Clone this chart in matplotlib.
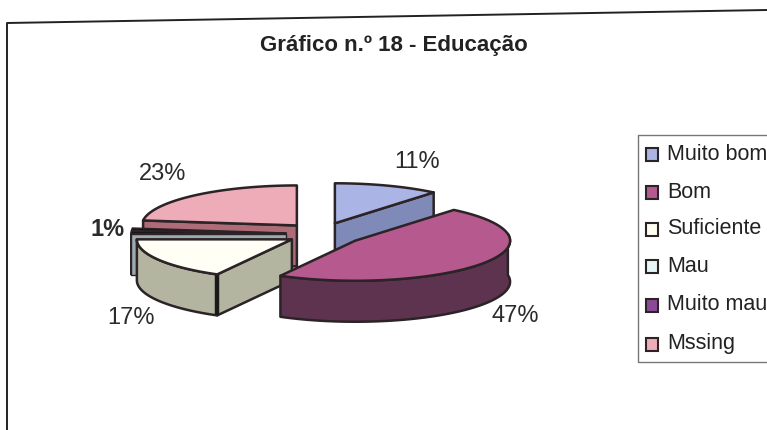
import numpy as np
import matplotlib
matplotlib.use('Agg')
import matplotlib.pyplot as plt
from matplotlib.patches import Rectangle

plt.rcParams['font.family'] = ['Liberation Sans', 'DejaVu Sans']

categories = ['Muito bom', 'Bom', 'Suficiente', 'Mau', 'Muito mau', 'Mssing']
values = [11, 47, 17, 1, 1, 23]
value_labels = ['11%', '47%', '17%', None, '1%', '23%']

top_colors = ['#aab5e6', '#b5598f', '#fffff6', '#1c1418', '#1c1418', '#eeabb8']
side_colors = ['#7f8ab8', '#5e3350', '#b4b5a0', '#9dabb0', '#8d9a9e', '#ae6b78']
legend_colors = ['#aab5e6', '#b5598f', '#fffff0', '#e4f6f6', '#8a4a96', '#eeabb8']
explode = [38, 40, 35, 36, 36, 38]
draw_order = [0, 5, 4, 3, 2, 1]

# pie geometry in pixels
cx, cy = 322, 234
rx, ry = 155, 40
depth = 41
lift = 0.30


def rim(start, end, x0, y0):
    t = np.radians(np.linspace(start, end, 80))
    return x0 + rx * np.sin(t), y0 - ry * np.cos(t), t


fig = plt.figure(figsize=(7.67, 4.3), dpi=100)
ax = fig.add_axes([0, 0, 1, 1])
ax.set_xlim(0, 767)
ax.set_ylim(430, 0)
ax.axis('off')

# page frame, slightly skewed
ax.plot([7, 7, 767], [430, 23, 10], color='#222222', lw=1.4)

angles = np.cumsum([0] + values) * 3.6
for i in draw_order:
    start, end = angles[i], angles[i + 1]
    mid = np.radians((start + end) / 2)
    x0 = cx + explode[i] * np.sin(mid)
    y0 = cy - explode[i] * np.cos(mid) * lift
    xs, ys, t = rim(start, end, x0, y0)
    lw = 1.0 if values[i] == 1 else 1.8
    style = dict(edgecolor='#2b2326', lw=lw, joinstyle='round', zorder=2 + draw_order.index(i))

    # only the cut faces turned towards the viewer get drawn
    if np.sin(np.radians(start)) < -0.01:
        ax.fill([x0, xs[0], xs[0], x0], [y0, ys[0], ys[0] + depth, y0 + depth],
                facecolor=side_colors[i], **style)
    if np.sin(np.radians(end)) > 0.01:
        ax.fill([x0, xs[-1], xs[-1], x0], [y0, ys[-1], ys[-1] + depth, y0 + depth],
                facecolor=side_colors[i], **style)

    # outer wall along the near half of the rim
    front = (np.cos(t) < 0.02) | (np.sin(t) > 0.98)
    if front.any():
        wx, wy = xs[front], ys[front]
        ax.fill(np.r_[wx, wx[::-1]], np.r_[wy, wy[::-1] + depth], facecolor=side_colors[i], **style)

    # heavier corner where the Suficiente wall meets its cut face
    if i == 2:
        ax.plot([xs[0], xs[0]], [ys[0], ys[0] + depth], color='#1a1a1a', lw=3.2,
                solid_capstyle='butt', zorder=style['zorder'])
    ax.fill(np.r_[x0, xs], np.r_[y0, ys], facecolor=top_colors[i], **style)

# value labels
label_pos = [(417, 162), (515, 316), (131, 318), None, (108, 230), (163, 174)]
for i, lab in enumerate(value_labels):
    if lab is None:
        continue
    ax.text(*label_pos[i], lab, fontsize=17, color='#2b2b2b', ha='center', va='center',
            fontweight='bold' if lab == '1%' else 'normal', zorder=20)

ax.text(394, 45, 'Gráfico n.º 18 - Educação', fontsize=16, fontweight='bold',
        color='#222222', ha='center', va='center', zorder=20)

# legend box runs off the right edge
ax.plot([767, 638, 638, 767], [135, 135, 362, 362], color='#777777', lw=1, zorder=20)
legend_y = [154, 192, 229, 266, 305, 344]
for name, color, y in zip(categories, legend_colors, legend_y):
    ax.add_patch(Rectangle((646, y - 6), 12, 13, facecolor=color, edgecolor='#2b2326', lw=1.5, zorder=20))
    ax.text(667, y, name, fontsize=15.5, color='#222222', ha='left', va='center', zorder=20)

fig.savefig('out.png', dpi=100)
